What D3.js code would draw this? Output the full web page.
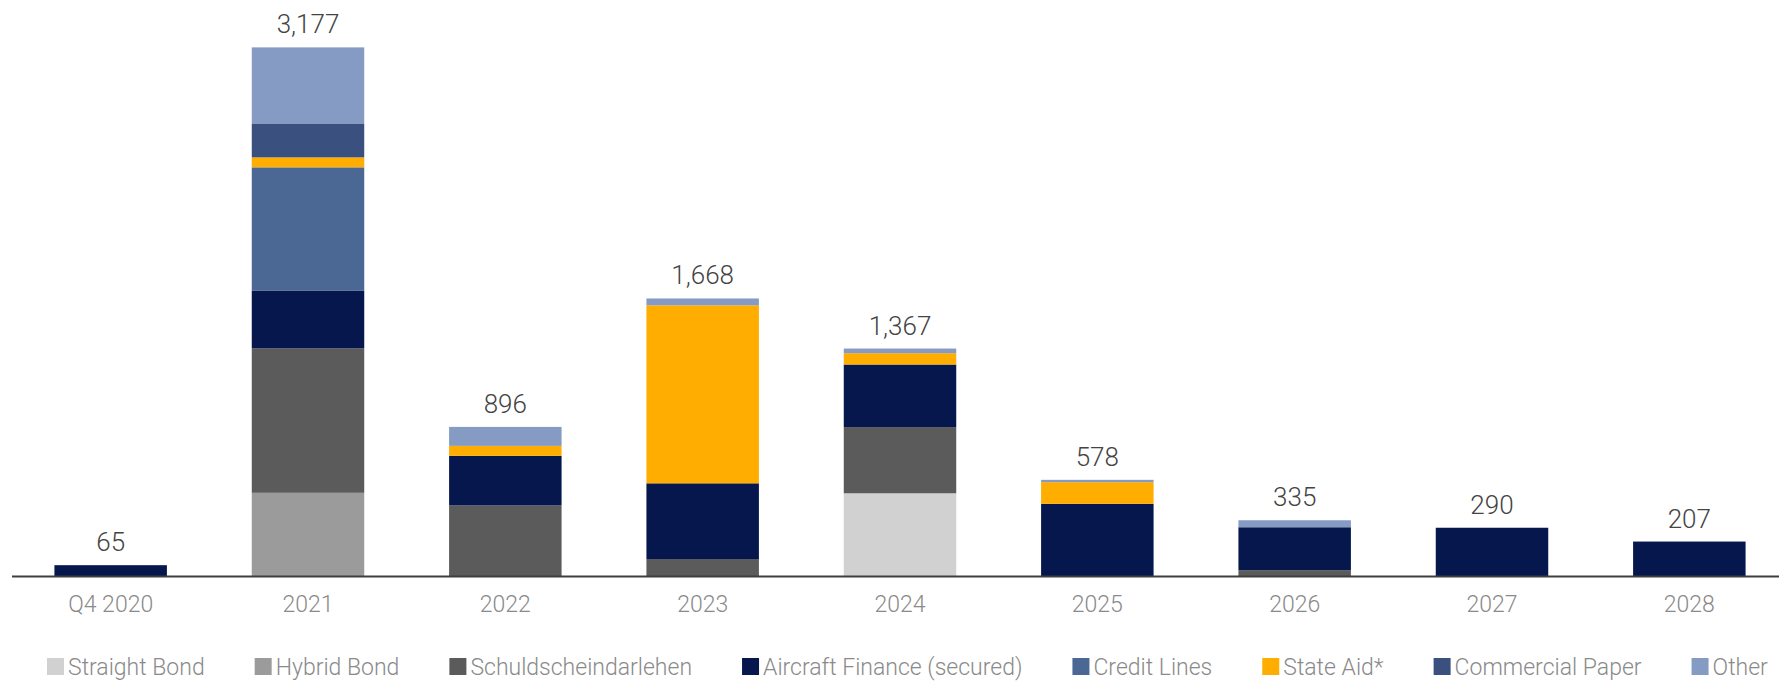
<!DOCTYPE html>
<html>
<head>
<meta charset="utf-8">
<script src="https://cdn.jsdelivr.net/npm/d3@7"></script>
<style>
  html, body { margin: 0; padding: 0; background: #fff; }
  svg { display: block; }
  text { font-family: Roboto, "Liberation Sans", sans-serif; font-weight: 300; }
</style>
</head>
<body>
<svg id="chart" width="1779" height="681"></svg>
<script>
// Maturity profile (EUR m) by instrument type
const categories = ["Q4 2020", "2021", "2022", "2023", "2024", "2025", "2026", "2027", "2028"];
const seriesNames = ["Straight Bond", "Hybrid Bond", "Schuldscheindarlehen", "Aircraft Finance (secured)",
                     "Credit Lines", "State Aid*", "Commercial Paper", "Other"];
const straightBond     = [0,   0,   0,    0, 497,   0,   0,   0,   0];
const hybridBond       = [0, 500,   0,    0,   0,   0,   0,   0,   0];
const schuldschein     = [0, 868, 424,  102, 398,   0,  35,   0,   0];
const aircraftFinance  = [65, 348, 298, 455, 376, 434, 258, 290, 207];
const creditLines      = [0, 740,   0,    0,   0,   0,   0,   0,   0];
const stateAid         = [0,  60,  60, 1070,  68, 130,   0,   0,   0];
const commercialPaper  = [0, 204,   0,    0,   0,   0,   0,   0,   0];
const other            = [0, 457, 114,   41,  28,  14,  42,   0,   0];

const seriesValues = [straightBond, hybridBond, schuldschein, aircraftFinance,
                      creditLines, stateAid, commercialPaper, other];
const colors = ["#d1d1d1", "#9b9b9b", "#5b5b5b", "#05174d", "#4a6893", "#ffad00", "#3a5180", "#869bc4"];

// Build rows for d3.stack
const rows = categories.map((c, i) => {
  const r = { category: c };
  seriesNames.forEach((s, k) => { r[s] = seriesValues[k][i]; });
  return r;
});
const totals = rows.map(r => d3.sum(seriesNames, s => r[s]));

const svg = d3.select("#chart");
const baseY = 576;

const x = d3.scaleBand()
  .domain(categories)
  .range([12, 1788])
  .paddingInner(0.43)
  .paddingOuter(0.215);

const y = d3.scaleLinear()
  .domain([0, 3200])
  .range([baseY, baseY - 3200 / 6.01]);

const stack = d3.stack().keys(seriesNames);
const layers = stack(rows);

svg.append("g")
  .selectAll("g")
  .data(layers)
  .join("g")
    .attr("fill", (d, i) => colors[i])
  .selectAll("rect")
  .data(d => d.filter(p => p[1] - p[0] > 0))
  .join("rect")
    .attr("x", d => x(d.data.category))
    .attr("width", x.bandwidth())
    .attr("y", d => y(d[1]))
    .attr("height", d => y(d[0]) - y(d[1]));

// Total labels above each bar
svg.append("g")
  .selectAll("text")
  .data(rows)
  .join("text")
    .attr("x", d => x(d.category) + x.bandwidth() / 2)
    .attr("y", (d, i) => y(totals[i]) - 14)
    .attr("text-anchor", "middle")
    .attr("font-size", 26)
    .attr("fill", "#444444")
    .text((d, i) => d3.format(",")(totals[i]));

// Category axis
const axis = svg.append("g")
  .attr("transform", `translate(0,${baseY})`)
  .call(d3.axisBottom(x).tickSize(0).tickPadding(0));
axis.select(".domain").remove();
axis.selectAll("text")
  .attr("dy", null)
  .attr("y", 36)
  .attr("font-size", 23)
  .attr("font-family", null)
  .attr("fill", "#8a8a8a");
svg.append("line")
  .attr("x1", 12).attr("x2", 1779)
  .attr("y1", baseY + 0.5).attr("y2", baseY + 0.5)
  .attr("stroke", "#3f3f3f")
  .attr("stroke-width", 2);

// Legend
const legend = svg.append("g").attr("transform", "translate(47,0)");
let lx = 0;
seriesNames.forEach((name, i) => {
  const g = legend.append("g").attr("transform", `translate(${lx},0)`);
  g.append("rect")
    .attr("x", 0).attr("y", 658)
    .attr("width", 17).attr("height", 17)
    .attr("fill", colors[i]);
  const t = g.append("text")
    .attr("x", 21).attr("y", 675)
    .attr("font-size", 23)
    .attr("fill", "#8a8a8a")
    .text(name);
  lx += 21 + t.node().getComputedTextLength() + 50;
});
</script>
</body>
</html>
